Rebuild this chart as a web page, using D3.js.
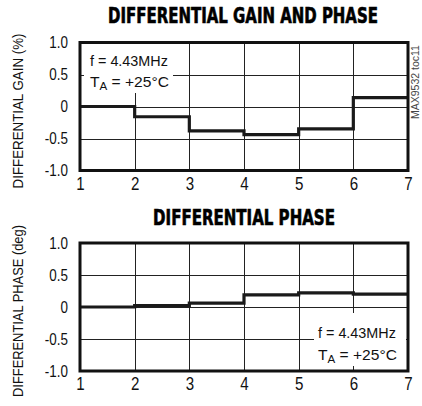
<!DOCTYPE html>
<html>
<head>
<meta charset="utf-8">
<script src="https://cdn.jsdelivr.net/npm/d3@7/dist/d3.min.js"></script>
<style>
  html, body { margin: 0; padding: 0; background: #fff; }
  svg { display: block; }
</style>
</head>
<body>
<script>
// Step positions along the horizontal axis
const steps = [1, 2, 3, 4, 5, 6, 7];
// Differential gain (%) held over each step interval 1-2 ... 6-7
const gainValues = [0, -0.16, -0.38, -0.44, -0.35, 0.14];
// Differential phase (deg) held over each step interval
const phaseValues = [0, 0.02, 0.06, 0.19, 0.22, 0.20];
// Tick values and labels
const xTicks = [1, 2, 3, 4, 5, 6, 7];
const yTicks = [-1, -0.5, 0, 0.5, 1];
const yTickLabels = ["-1.0", "-0.5", "0", "0.5", "1.0"];

const W = 422, H = 406;
const sans = "'Liberation Sans', Arial, Helvetica, sans-serif";
const heavy = "'DejaVu Sans Condensed', 'DejaVu Sans', sans-serif";
const NARROW = 0.84; // horizontal squeeze giving a narrow sans look

const svg = d3.select("body").append("svg")
  .attr("width", W).attr("height", H);

// Text squeezed horizontally to a given width, anchored at (x, y)
function fitText(parent, o) {
  const g = parent.append("g")
    .attr("transform", `translate(${o.x},${o.y})` + (o.rotate ? ` rotate(${o.rotate})` : ""));
  const t = g.append("text")
    .attr("text-anchor", o.anchor || "start")
    .attr("font-family", o.family || sans)
    .attr("font-size", o.size)
    .attr("font-weight", o.weight || 400)
    .attr("fill", o.fill || "#111");
  if (o.stroke) t.attr("stroke", o.fill || "#111").attr("stroke-width", o.stroke);
  if (o.build) o.build(t); else t.text(o.text);
  const natural = t.node().getComputedTextLength();
  const sx = o.width ? o.width / natural : NARROW;
  t.attr("transform", `scale(${sx},1)`);
  return t;
}

const x = d3.scaleLinear().domain([1, 7]).range([80, 408]);

function panel(cfg) {
  const y = d3.scaleLinear().domain([-1, 1]).range([cfg.bottom, cfg.top]);
  const g = svg.append("g");

  // title
  fitText(g, { x: cfg.titleX, y: cfg.titleY, anchor: "middle", family: heavy,
    weight: 900, size: 20.5, width: cfg.titleLen, stroke: 0.6, fill: "#000", text: cfg.title });

  // grid
  g.append("g").selectAll("line").data(xTicks.slice(1, -1)).join("line")
    .attr("x1", d => Math.round(x(d)) + 0.5).attr("x2", d => Math.round(x(d)) + 0.5)
    .attr("y1", cfg.top).attr("y2", cfg.bottom)
    .attr("stroke", "#222").attr("stroke-width", 1);
  g.append("g").selectAll("line").data(yTicks.slice(1, -1)).join("line")
    .attr("y1", d => Math.round(y(d)) + 0.5).attr("y2", d => Math.round(y(d)) + 0.5)
    .attr("x1", x(1)).attr("x2", x(7))
    .attr("stroke", "#222").attr("stroke-width", 1);

  // annotation, with a white knock-out behind it
  g.append("rect")
    .attr("x", cfg.box[0]).attr("y", cfg.box[1])
    .attr("width", cfg.box[2]).attr("height", cfg.box[3])
    .attr("fill", "#fff");
  fitText(g, { x: cfg.annX, y: cfg.annY, size: 15.5, width: 78, text: "f = 4.43MHz" });
  fitText(g, { x: cfg.annX, y: cfg.annY + 21.5, size: 15.5, width: 79,
    build: t => {
      t.append("tspan").text("T");
      t.append("tspan").attr("font-size", 11.5).attr("dy", 3).text("A");
      t.append("tspan").attr("dy", -3).text(" = +25°C");
    } });

  // step curve
  const pts = steps.map((s, i) => [s, cfg.values[Math.min(i, cfg.values.length - 1)]]);
  g.append("path")
    .attr("d", d3.line().x(d => x(d[0])).y(d => y(d[1])).curve(d3.curveStepAfter)(pts))
    .attr("fill", "none").attr("stroke", "#1a1a1a").attr("stroke-width", 3.2)
    .attr("stroke-linejoin", "miter");

  // frame
  g.append("rect")
    .attr("x", x(1)).attr("y", cfg.top)
    .attr("width", x(7) - x(1)).attr("height", cfg.bottom - cfg.top)
    .attr("fill", "none").attr("stroke", "#111").attr("stroke-width", 3);

  // axes
  const ya = g.append("g").attr("transform", `translate(${x(1)},0)`)
    .call(d3.axisLeft(y).tickValues(yTicks).tickSize(0).tickPadding(12)
      .tickFormat((d, i) => yTickLabels[i]));
  ya.select(".domain").remove();
  ya.selectAll("text")
    .attr("font-family", sans).attr("font-size", 16).attr("fill", "#111")
    .attr("x", -12 / NARROW).attr("transform", `scale(${NARROW},1)`);

  const xa = g.append("g").attr("transform", `translate(0,${cfg.bottom})`)
    .call(d3.axisBottom(x).tickValues(xTicks).tickSize(0).tickPadding(6.5)
      .tickFormat(d3.format("d")));
  xa.select(".domain").remove();
  xa.selectAll("text")
    .attr("font-family", sans).attr("font-size", 18).attr("fill", "#111")
    .attr("transform", `scale(${NARROW},1)`);

  // vertical axis title
  fitText(g, { x: 23, y: cfg.ytY, rotate: -90, anchor: "middle", size: 15,
    width: cfg.ytLen, text: cfg.yTitle });
}

panel({
  title: "DIFFERENTIAL GAIN AND PHASE", titleX: 243, titleY: 23, titleLen: 270,
  top: 42.5, bottom: 170.5, values: gainValues,
  box: [84, 44, 89, 49], annX: 90, annY: 65.5,
  yTitle: "DIFFERENTIAL GAIN (%)", ytY: 111, ytLen: 155
});

panel({
  title: "DIFFERENTIAL PHASE", titleX: 244, titleY: 225, titleLen: 182,
  top: 243, bottom: 371, values: phaseValues,
  box: [314, 313, 92, 53], annX: 318, annY: 338,
  yTitle: "DIFFERENTIAL PHASE (deg)", ytY: 311, ytLen: 172
});

// part number tag along the right edge
fitText(svg, { x: 419, y: 82, rotate: -90, anchor: "middle", size: 10,
  width: 74, fill: "#444", text: "MAX9532 toc11" });
</script>
</body>
</html>
